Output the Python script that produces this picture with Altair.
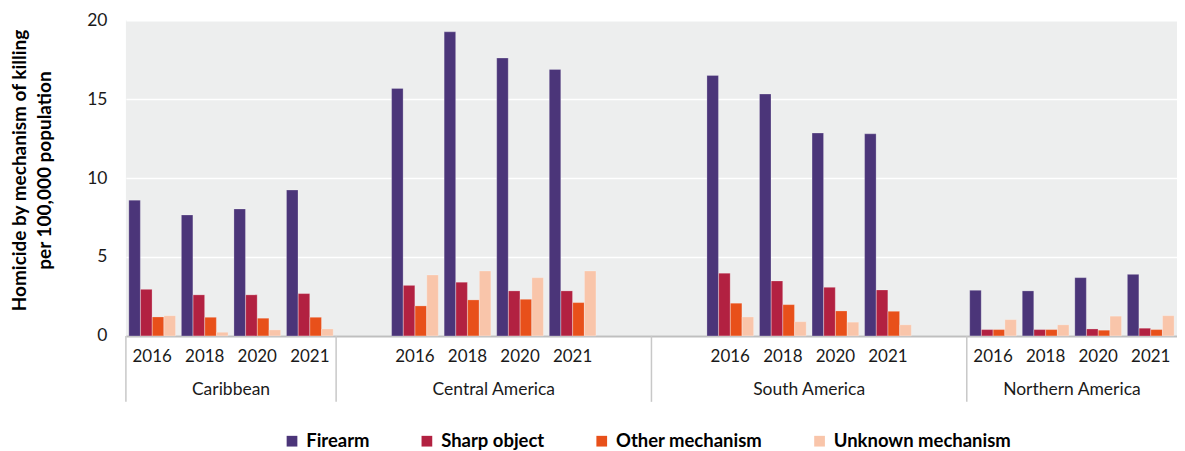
import altair as alt
import pandas as pd

regions = ["Caribbean", "Central America", "South America", "Northern America"]
years = ["2016", "2018", "2020", "2021"]
series = ["Firearm", "Sharp object", "Other mechanism", "Unknown mechanism"]
colors = ["#4B3579", "#B22141", "#E8501A", "#F9C5AA"]

# values per region, per year (2016, 2018, 2020, 2021)
firearm = {
    "Caribbean": [8.6, 7.66, 8.04, 9.24],
    "Central America": [15.68, 19.26, 17.6, 16.88],
    "South America": [16.5, 15.32, 12.85, 12.8],
    "Northern America": [2.89, 2.85, 3.69, 3.9],
}
sharp = {
    "Caribbean": [2.95, 2.6, 2.6, 2.68],
    "Central America": [3.2, 3.4, 2.85, 2.85],
    "South America": [3.97, 3.48, 3.08, 2.91],
    "Northern America": [0.4, 0.4, 0.44, 0.49],
}
other = {
    "Caribbean": [1.2, 1.18, 1.12, 1.18],
    "Central America": [1.9, 2.28, 2.32, 2.11],
    "South America": [2.07, 1.98, 1.58, 1.56],
    "Northern America": [0.4, 0.4, 0.36, 0.4],
}
unknown = {
    "Caribbean": [1.28, 0.23, 0.38, 0.44],
    "Central America": [3.86, 4.11, 3.69, 4.11],
    "South America": [1.2, 0.9, 0.87, 0.7],
    "Northern America": [1.03, 0.7, 1.25, 1.28],
}
# empty category slots before/after each region
pads = {
    "Caribbean": (0, 0),
    "Central America": (1, 1),
    "South America": (1, 1),
    "Northern America": (0, 0),
}

slots = []
first_slot = {}
for r in regions:
    before, after = pads[r]
    region_slots = [f"{r}|pad{i}" for i in range(before)] + [f"{r}|{y}" for y in years] + [f"{r}|padE{i}" for i in range(after)]
    first_slot[r] = region_slots[0]
    slots += region_slots

rows = []
for r in regions:
    for i, y in enumerate(years):
        for s, src in zip(series, [firearm, sharp, other, unknown]):
            rows.append({"slot": f"{r}|{y}", "series": s, "value": src[r][i]})
df = pd.DataFrame(rows)

reg_df = pd.DataFrame({"slot": [f"{r}|2020" for r in regions], "label": regions})
sep_df = pd.DataFrame({"slot": [first_slot[r] for r in regions]})

FONT = "Lato"
W, H = 1052, 316

xscale = alt.Scale(domain=slots, paddingInner=0, paddingOuter=0)

bars = alt.Chart(df).mark_bar(stroke="#FFFFFF", strokeWidth=0.4, strokeOpacity=0.6).encode(
    x=alt.X("slot:N", scale=xscale, sort=slots,
            axis=alt.Axis(title=None, ticks=False, domain=True, domainColor="#BFBFBF", domainWidth=2,
                          labelExpr="indexof(datum.value, 'pad') >= 0 ? '' : split(datum.value, '|')[1]",
                          labelAngle=0, labelFontSize=17, labelFont=FONT, labelColor="#1A1A1A",
                          labelPadding=13, labelBaseline="top")),
    xOffset=alt.XOffset("series:N", sort=series, scale=alt.Scale(domain=series, paddingInner=0.02, paddingOuter=0.25)),
    y=alt.Y("value:Q", scale=alt.Scale(domain=[0, 20]),
            axis=alt.Axis(values=[0, 5, 10, 15, 20], title=["Homicide by mechanism of killing", "per 100,000 population"],
                          titleFont=FONT, titleFontSize=19, titleFontWeight="bold", titleColor="#000000",
                          titleLineHeight=25, titleX=-106, titleY=150, titleBaseline="middle", titleAngle=-90,
                          titleAlign="center",
                          domain=False, ticks=False, labelFontSize=17.5, labelFont=FONT, labelColor="#1A1A1A",
                          labelPadding=19, gridColor="#FFFFFF", gridWidth=1.5)),
    color=alt.Color("series:N", sort=series, scale=alt.Scale(domain=series, range=colors),
                    legend=alt.Legend(title=None, orient="none", legendX=157, legendY=412, direction="horizontal",
                                      symbolType="square", symbolSize=115, symbolStrokeWidth=0,
                                      labelFont=FONT, labelFontSize=18.5, labelFontWeight="bold", labelColor="#000000",
                                      labelOffset=5, labelLimit=400, columnPadding=48, padding=0)),
)

region_text = alt.Chart(reg_df).mark_text(font=FONT, fontSize=17.5, color="#1A1A1A", baseline="middle", align="center").encode(
    x=alt.X("slot:N", scale=xscale, sort=slots, bandPosition=0),
    y=alt.value(370),
    text="label:N",
)

seps = alt.Chart(sep_df).mark_rule(color="#C8C8C8", strokeWidth=1.5).encode(
    x=alt.X("slot:N", scale=xscale, sort=slots, bandPosition=0),
    y=alt.value(H),
    y2=alt.value(382),
)

chart = alt.layer(bars, seps, region_text).properties(
    width=W, height=H,
    autosize=alt.AutoSizeParams(type="none"),
    padding={"left": 118, "top": 12, "right": 0, "bottom": 115},
    background="#FFFFFF",
).configure_view(fill="#EDEEEE", stroke=None).configure_axis(labelFlush=False)

chart.save("out.html", embed_options={"renderer": "svg", "actions": False})
